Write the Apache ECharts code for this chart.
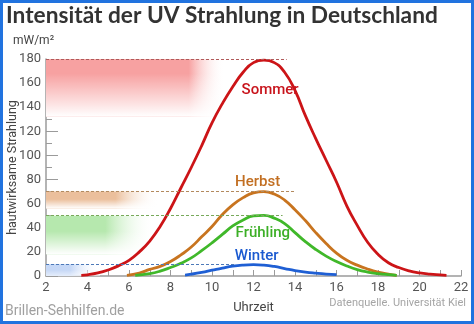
<!DOCTYPE html>
<html>
<head>
<meta charset="utf-8">
<script src="https://cdn.jsdelivr.net/npm/echarts@6/dist/echarts.min.js"></script>
<style>
  html, body { margin: 0; padding: 0; background: #fff; }
  #chart { width: 474px; height: 324px; }
</style>
</head>
<body>
<div id="chart"></div>
<script>
// UV intensity over the day, per season: [hour, mW/m²]
const sommer = [[3.7,0.6],[4,1],[4.5,2.5],[5,5],[5.5,8.5],[6,13],[6.5,20],[7,29],[7.5,41],[8,56],[8.5,73],[9,90],[9.5,108],[10,127],[10.5,143],[11,157],[11.5,169],[12,177],[12.5,179],[13,177],[13.5,169],[14,154],[14.5,133],[15,114],[15.5,96],[16,78],[16.5,58],[17,42],[17.5,28],[18,18],[18.5,11],[19,7],[19.5,4.2],[20,2.5],[20.5,1.5],[21,0.9],[21.3,0.6]];
const herbst = [[5.9,0.6],[6.5,2.5],[7,5.5],[7.5,8],[8,12],[8.5,17.5],[9,24],[9.5,32.5],[10,41],[10.5,51],[11,59],[11.5,65],[12,69],[12.5,70],[13,68],[13.5,63],[14,55],[14.5,46],[15,36],[15.5,27],[16,19],[16.5,13],[17,9],[17.5,5.8],[18,3.3],[18.5,1.6],[18.9,0.6]];
const fruehling = [[6.3,0.6],[7,2],[7.5,4],[8,7],[8.5,10.5],[9,15],[9.5,21],[10,27.5],[10.5,34.5],[11,41.5],[11.5,46.5],[12,49.8],[12.5,50.3],[13,48],[13.5,43.5],[14,36],[14.5,28.5],[15,22],[15.5,16.5],[16,12],[16.5,8.3],[17,5.3],[17.5,3.3],[18,2],[18.5,1.1],[18.9,0.6]];
const winter = [[8.7,0.8],[9,1.5],[9.5,3],[10,4.8],[10.5,6.6],[11,8.2],[11.5,9.1],[12,9.4],[12.5,9],[13,7.9],[13.5,6.2],[14,4.5],[14.5,3.2],[15,2.3],[15.5,1.6],[16,1.2]];

// Season names, peak reference levels and the hour where each reference line stops
const seasonNames = ['Sommer', 'Herbst', 'Frühling', 'Winter'];
const peakLevels = [180, 70, 50, 10];
const peakLineEnds = [13.6, 14.0, 13.4, 11.1];
// Where each season name sits [hour, value]
const nameAnchors = [[12.8, 154], [12.2, 78], [12.45, 35.5], [12.15, 16.5]];
// Shaded level bands along the y axis: [hourEnd, valueBottom, valueTop]
const bands = [[10.6, 132, 180], [7.4, 56, 70], [7.2, 18, 50], [4.6, 0, 10]];

const xTicks = { min: 2, max: 22, step: 2 };
const yTicks = { min: 0, max: 180, step: 20 };

const lineColors = ['#cc1417', '#c8741f', '#40b82a', '#1f5fd4'];
const textColors = ['#c8141c', '#c26f22', '#3caf26', '#1b5ad0'];
const dashColors = ['#b05a5a', '#b38a5e', '#78a95a', '#4d79b8'];
const bandColors = ['#f7a1a1', '#ebbf9c', '#b6e8ae', '#c6d8f6'];
const bandFade = [0.8, 0.62, 0.55, 0.45];
const bandHold = [0.25, 0.45, 0.4, 0.5];

const chart = echarts.init(document.getElementById('chart'), null, { renderer: 'canvas' });
const LG = echarts.graphic.LinearGradient;

const seriesData = [sommer, herbst, fruehling, winter];

const curveSeries = seriesData.map((d, i) => ({
  name: seasonNames[i],
  type: 'line',
  data: d,
  smooth: 0.5,
  symbol: 'none',
  z: 3,
  lineStyle: { color: lineColors[i], width: 2.8 },
  markLine: {
    silent: true,
    symbol: 'none',
    label: { show: false },
    lineStyle: { color: dashColors[i], type: [3, 2], width: 1 },
    data: [[{ coord: [xTicks.min, peakLevels[i]] }, { coord: [peakLineEnds[i], peakLevels[i]] }]]
  },
  markPoint: {
    silent: true,
    symbol: 'circle',
    symbolSize: 0,
    label: {
      show: true,
      position: 'inside',
      formatter: seasonNames[i],
      color: textColors[i],
      fontFamily: 'Roboto',
      fontWeight: 500,
      fontSize: 15
    },
    data: [{ coord: nameAnchors[i] }]
  }
}));

// Colour layer fading out to the right, then a white layer fading the lower edge
const bandAreas = [];
bands.forEach((b, i) => {
  bandAreas.push([
    { xAxis: xTicks.min, yAxis: b[2], itemStyle: { color: new LG(0, 0, 1, 0, [
      { offset: 0, color: bandColors[i] },
      { offset: bandFade[i], color: bandColors[i] },
      { offset: 1, color: 'rgba(255,255,255,0)' }
    ]) } },
    { xAxis: b[0], yAxis: b[1] }
  ]);
});
bands.forEach((b, i) => {
  bandAreas.push([
    { xAxis: xTicks.min, yAxis: b[2], itemStyle: { color: new LG(0, 0, 0, 1, [
      { offset: 0, color: 'rgba(255,255,255,0)' },
      { offset: bandHold[i], color: 'rgba(255,255,255,0)' },
      { offset: 1, color: i === 3 ? 'rgba(255,255,255,0.55)' : '#ffffff' }
    ]) } },
    { xAxis: b[0], yAxis: b[1] }
  ]);
});

const bandSeries = {
  type: 'line',
  data: [],
  z: -1,
  silent: true,
  markArea: { silent: true, data: bandAreas }
};

const axisGray = '#9b9b9b';

chart.setOption({
  animation: false,
  backgroundColor: '#ffffff',
  title: {
    text: 'Intensität der UV Strahlung in Deutschland',
    left: 6,
    top: 4,
    padding: 0,
    textStyle: { fontFamily: 'Lato', fontWeight: 'bold', fontSize: 22.7, color: '#333333' }
  },
  grid: { left: 46, right: 13, top: 59, bottom: 48, outerBoundsMode: 'none' },
  xAxis: {
    type: 'value',
    min: xTicks.min,
    max: xTicks.max,
    interval: xTicks.step,
    name: 'Uhrzeit',
    nameLocation: 'middle',
    nameGap: 25,
    nameMoveOverlap: false,
    nameTextStyle: { fontFamily: 'Roboto', fontSize: 13, color: '#444' },
    axisLine: { lineStyle: { color: axisGray, width: 1.5 } },
    axisTick: { inside: true, length: 6, lineStyle: { color: axisGray } },
    minorTick: { show: true, splitNumber: 2, length: 6, lineStyle: { color: axisGray } },
    splitLine: { show: false },
    axisLabel: { fontFamily: 'Roboto', fontSize: 13, color: '#555', margin: 5 }
  },
  yAxis: {
    type: 'value',
    min: yTicks.min,
    max: yTicks.max,
    interval: yTicks.step,
    name: 'hautwirksame Strahlung',
    nameLocation: 'middle',
    nameRotate: 90,
    nameGap: 27,
    nameMoveOverlap: false,
    nameTextStyle: { fontFamily: 'Roboto', fontSize: 12.5, color: '#444' },
    axisLine: { show: true, lineStyle: { color: axisGray, width: 1.5 } },
    axisTick: { show: true, inside: true, length: 12, lineStyle: { color: axisGray } },
    minorTick: { show: true, splitNumber: 2, length: 6, lineStyle: { color: axisGray } },
    splitLine: { show: false },
    axisLabel: { fontFamily: 'Roboto', fontSize: 13, color: '#555', margin: 5 }
  },
  graphic: [
    { type: 'text', left: 13, top: 35, style: { text: 'mW/m²', font: '12px Roboto', fill: '#444' } },
    { type: 'text', right: 8, top: 298, style: { text: 'Datenquelle. Universität Kiel', font: '11px Roboto', fill: '#a5a5a5' } },
    { type: 'text', left: 5, top: 304, style: { text: 'Brillen-Sehhilfen.de', font: '14px Roboto', fill: '#a0a0a0' } },
    { type: 'rect', silent: true, z: 100, shape: { x: 1.5, y: 1.5, width: 471, height: 321 },
      style: { fill: 'none', stroke: '#2173df', lineWidth: 3 } }
  ],
  series: [bandSeries].concat(curveSeries)
});
</script>
</body>
</html>
